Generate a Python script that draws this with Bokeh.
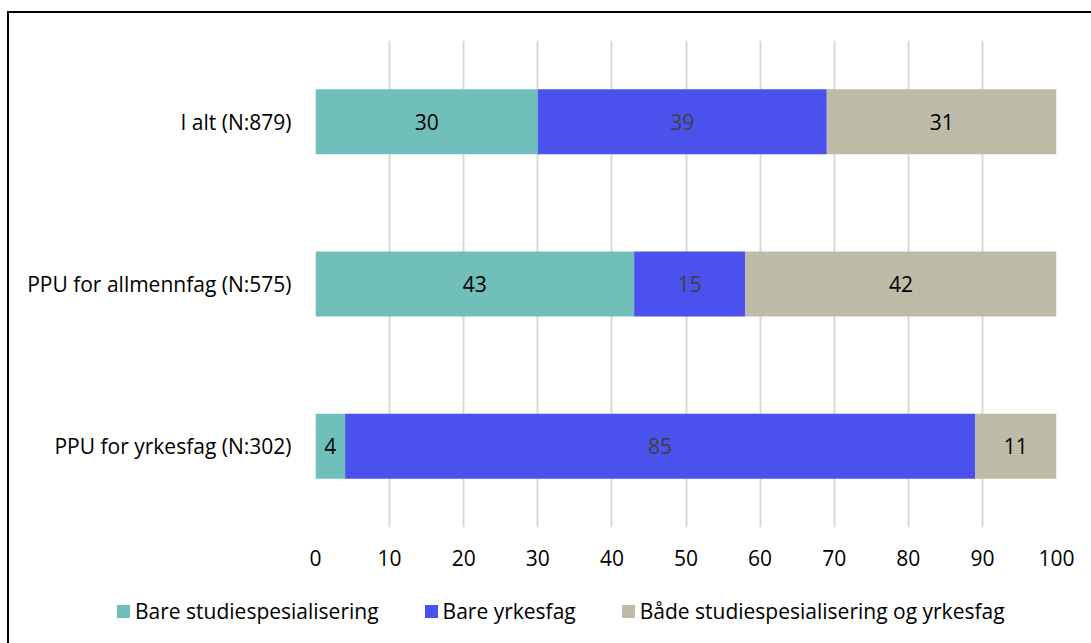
from bokeh.plotting import figure
from bokeh.layouts import column
from bokeh.models import FactorRange, Range1d, FixedTicker, ColumnDataSource, Div
from bokeh.core.properties import value
from bokeh.embed import file_html
from bokeh.resources import INLINE

categories = ["I alt (N:879)", "PPU for allmennfag (N:575)", "PPU for yrkesfag (N:302)"]
series = ["Bare studiespesialisering", "Bare yrkesfag", "Både studiespesialisering og yrkesfag"]
studie = [30, 43, 4]
yrkes = [39, 15, 85]
begge = [31, 42, 11]
x_ticks = [0, 10, 20, 30, 40, 50, 60, 70, 80, 90, 100]

colors = ["#70BFBA", "#4A51EC", "#BEBBA8"]
label_colors = ["#000000", "#404040", "#000000"]
FONT = "Open Sans"
FS = "21px"

p = figure(width=1082, height=580, output_backend="svg", toolbar_location=None,
           y_range=FactorRange(*reversed(categories)), x_range=Range1d(0, 100),
           min_border_left=306, min_border_right=35, min_border_top=27, min_border_bottom=66)
p.outline_line_color = None

src = ColumnDataSource(dict(cat=categories, s1=studie, s2=yrkes, s3=begge))
rs = p.hbar_stack(["s1", "s2", "s3"], y="cat", height=0.4, color=colors, line_color=None, source=src)

# labels at segment centres
xs, ys, ts, cs = [], [], [], []
for i, c in enumerate(categories):
    vals = [studie[i], yrkes[i], begge[i]]
    start = 0
    for j, v in enumerate(vals):
        xs.append(start + v / 2)
        ys.append(c)
        ts.append(str(v))
        cs.append(label_colors[j])
        start += v
lsrc = ColumnDataSource(dict(x=xs, y=ys, t=ts, c=cs))
p.text(x="x", y="y", text="t", text_color="c", source=lsrc, text_align="center",
       text_baseline="middle", text_font=value(FONT), text_font_size=FS)

p.ygrid.grid_line_color = None
p.xgrid.grid_line_color = "#D9D9D9"
p.xgrid.grid_line_width = 2
p.xaxis.ticker = FixedTicker(ticks=x_ticks)
for ax in (p.xaxis[0], p.yaxis[0]):
    ax.axis_line_color = None
    ax.major_tick_line_color = None
    ax.minor_tick_line_color = None
    ax.major_label_text_font = FONT
    ax.major_label_text_font_size = FS
    ax.major_label_text_color = "#000000"
p.xaxis.major_label_standoff = 16
p.yaxis.major_label_standoff = 18

# legend strip below the chart (HTML text)
items_html = "".join(
    f'<span style="display:inline-flex;align-items:center;margin-right:46px;">'
    f'<span style="display:inline-block;width:13px;height:13px;background:{colors[k]};margin-right:5px;"></span>'
    f'<span>{series[k]}</span></span>'
    for k in range(3)
)
legend_div = Div(
    text=f'<div style="display:flex;align-items:center;height:26px;padding-left:103px;'
         f'font-family:\'{FONT}\';font-size:{FS};color:#000000;white-space:nowrap;">{items_html}</div>',
    width=1082, height=50,
)

layout = column(p, legend_div, spacing=0)
layout.styles = {"border-left": "2px solid black", "border-top": "2px solid black",
                 "margin-top": "11px", "margin-left": "7px"}

open("out.html", "w").write(file_html(layout, INLINE))
